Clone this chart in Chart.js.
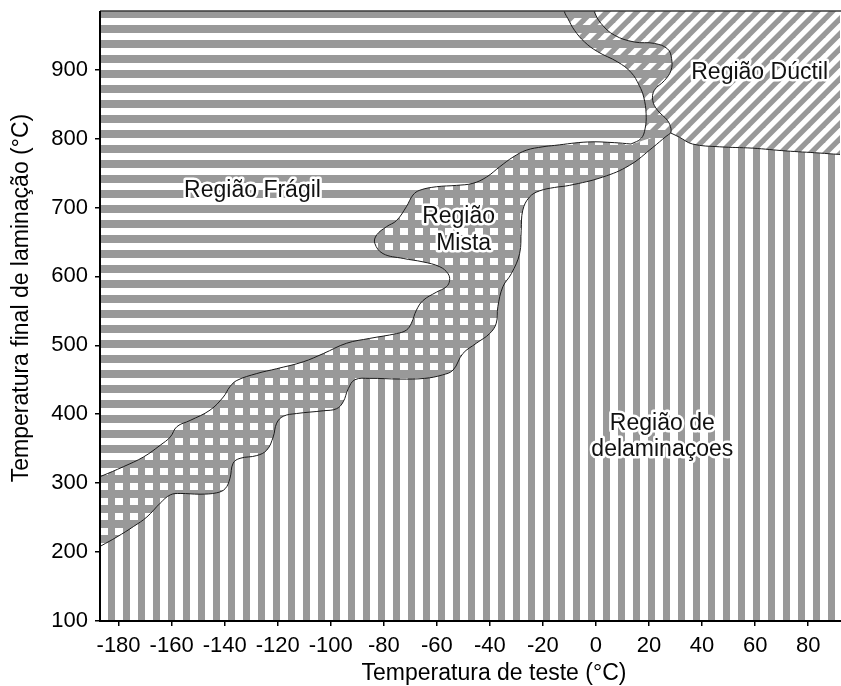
<!DOCTYPE html>
<html>
<head>
<meta charset="utf-8">
<script src="https://cdn.jsdelivr.net/npm/chart.js@4.4.1/dist/chart.umd.min.js"></script>
<style>
  html, body { margin: 0; padding: 0; background: #ffffff; }
  #wrap { width: 841px; height: 686px; position: relative; }
</style>
</head>
<body>
<div id="wrap"><canvas id="chart"></canvas></div>
<script>
// Axis ranges and tick values
const xRange = [-187, 92];
const yRange = [100, 985];
const xTickValues = [-180, -160, -140, -120, -100, -80, -60, -40, -20, 0, 20, 40, 60, 80];
const yTickValues = [100, 200, 300, 400, 500, 600, 700, 800, 900];

// Boundary curves: [temperatura de teste (°C), temperatura final de laminação (°C)]
// Frágil / Mista, from the left edge up to the junction near 13 °C
const boundaryFragilMista = [
  [-195, 297], [-186.6, 310], [-178.1, 324], [-170.6, 338], [-164.3, 355], [-160.5, 367],
  [-158.0, 382], [-153.0, 391], [-145.5, 406], [-140.5, 425], [-138.0, 440], [-135.4, 449],
  [-127.9, 459], [-120.4, 466], [-110.4, 476], [-102.8, 488], [-94.0, 503], [-85.3, 510],
  [-75.2, 517], [-71.5, 522], [-69.6, 532], [-67.7, 551], [-65.2, 565], [-60.2, 577],
  [-56.4, 585], [-55.2, 594], [-55.8, 604], [-58.9, 614], [-65.2, 621], [-72.7, 626],
  [-80.3, 633], [-83.4, 648], [-82.7, 660], [-79.0, 672], [-75.2, 681], [-71.5, 701],
  [-69.0, 718], [-66.4, 725], [-60.2, 730], [-52.6, 732], [-46.4, 735], [-41.3, 744],
  [-36.3, 759], [-31.3, 773], [-26.3, 783], [-20.0, 788], [-15.6, 790], [-3.1, 795],
  [6.9, 794], [13.2, 792]
];
// Frágil / Mista, from the junction up to the top edge
const boundaryFragilMistaTop = [
  [13.2, 792], [17.0, 800], [18.5, 814], [18.9, 836], [18.0, 860], [16.3, 877],
  [13.2, 896], [8.2, 911], [0.6, 926], [-4.3, 940], [-8.1, 957], [-10.6, 974],
  [-11.9, 984], [-12.8, 1000]
];
// Mista / Dúctil, from the top edge down to the triple point
const boundaryMistaDuctil = [
  [-1.5, 1000], [-0.6, 984], [1.9, 967], [6.9, 950], [14.5, 940], [22.0, 938],
  [27.0, 930], [28.5, 916], [28.3, 899], [25.8, 884], [22.0, 870], [21.4, 855],
  [23.2, 841], [27.0, 826], [28.3, 814], [28.2, 808]
];
// Dúctil / delaminações, from the triple point to the right edge
const boundaryDuctilDelam = [
  [28.2, 808], [31.4, 802], [36.4, 792], [46.5, 788], [59.0, 786], [71.6, 782],
  [84.1, 779], [91.6, 777], [100, 776]
];
// Mista / delaminações, from the left edge to the triple point
const boundaryMistaDelam = [
  [-195, 191], [-186.6, 209], [-180.6, 222], [-174.4, 237], [-169.3, 251], [-164.3, 271],
  [-160.5, 283], [-156.8, 285], [-149.3, 284], [-143.0, 286], [-139.8, 292], [-138.0, 307],
  [-136.8, 329], [-134.2, 336], [-127.9, 340], [-124.1, 348], [-121.7, 367], [-120.4, 387],
  [-117.9, 397], [-112.9, 401], [-102.8, 405], [-97.8, 408], [-95.3, 418], [-93.4, 437],
  [-90.9, 450], [-85.3, 452], [-74.0, 451], [-64.6, 452], [-57.9, 457], [-53.9, 464],
  [-50.2, 488], [-45.1, 503], [-40.1, 517], [-37.6, 532], [-37.0, 556], [-35.1, 585],
  [-31.9, 604], [-28.8, 633], [-28.2, 667], [-27.6, 696], [-25.1, 715], [-21.3, 724],
  [-15.6, 729], [-10.0, 732], [2.5, 744], [12.6, 761], [21.4, 787], [26.4, 803], [28.2, 808]
];

// Region names and where they sit (data coordinates)
const regionLabels = ['Região Frágil', 'Região', 'Mista', 'Região Dúctil', 'Região de', 'delaminaçoes'];
const regionLabelX = [-129.5, -51.8, -49.9, 61.7, 25.0, 25.0];
const regionLabelY = [724, 686, 647, 895, 386, 348];

const xTitle = 'Temperatura de teste (°C)';
const yTitle = 'Temperatura final de laminação (°C)';

// ---- drawing helpers ----
const STRIPE_GREY = '#999999';
const FONT_FAMILY = '"Liberation Sans", Arial, Helvetica, sans-serif';

function makePattern(drawTile) {
  const c = document.createElement('canvas');
  c.width = 15; c.height = 15;
  const g = c.getContext('2d');
  g.fillStyle = STRIPE_GREY;
  drawTile(g);
  return g.createPattern(c, 'repeat');
}
const horizontalStripes = makePattern(g => { g.fillRect(0, 10, 15, 5); g.fillRect(0, 0, 15, 3); });
const verticalStripes = makePattern(g => { g.fillRect(3, 0, 7, 15); });
const diagonalStripes = makePattern(g => {
  const w = 7.5;
  for (let k = -1; k <= 1; k++) {
    g.beginPath();
    g.moveTo(k * 15, 15); g.lineTo(k * 15 + w, 15);
    g.lineTo(k * 15 + w + 15, 0); g.lineTo(k * 15 + 15, 0);
    g.closePath(); g.fill();
  }
});

const pts = arr => arr.map(([x, y]) => ({ x, y }));
const rev = arr => arr.slice().reverse();

// points just outside the plotting frame, used to close the region shapes
const out = { l: xRange[0] - 20, r: xRange[1] + 12, b: yRange[0] - 40, t: yRange[1] + 25 };

const regionFragil = [[out.l, out.t], ...boundaryMistaDuctil, ...rev(boundaryMistaDelam)];
const regionDelam = [...boundaryFragilMista, ...boundaryDuctilDelam, [out.r, out.b], [out.l, out.b]];
const regionDuctil = [...rev(boundaryFragilMistaTop), ...boundaryDuctilDelam, [out.r, out.t]];

function regionDataset(poly, pattern) {
  return {
    data: pts(poly), showLine: true, fill: 'shape', backgroundColor: pattern,
    borderColor: 'rgba(0,0,0,0)', borderWidth: 1, pointRadius: 0, tension: 0.4,
    capBezierPoints: false, order: 10
  };
}
function boundaryDataset(curve) {
  return {
    data: pts(curve), showLine: true, fill: false, borderColor: '#1a1a1a', borderWidth: 1,
    pointRadius: 0, tension: 0.4, capBezierPoints: false, order: 1
  };
}

const frameAndText = {
  id: 'frameAndText',
  afterDatasetsDraw(chart) {
    const { ctx, chartArea: a, scales: { x, y } } = chart;
    ctx.save();
    // top border
    ctx.strokeStyle = '#3a3a3a'; ctx.lineWidth = 1.5;
    ctx.beginPath(); ctx.moveTo(a.left, a.top); ctx.lineTo(a.right + 1, a.top); ctx.stroke();
    // axis lines
    ctx.strokeStyle = '#000'; ctx.lineWidth = 2;
    ctx.beginPath(); ctx.moveTo(a.left, a.top); ctx.lineTo(a.left, a.bottom); ctx.lineTo(a.right + 1, a.bottom); ctx.stroke();

    // region names with a white halo
    ctx.font = '23px ' + FONT_FAMILY;
    ctx.textAlign = 'center'; ctx.textBaseline = 'middle';
    ctx.lineJoin = 'round';
    regionLabels.forEach((t, i) => {
      const px = x.getPixelForValue(regionLabelX[i]);
      const py = y.getPixelForValue(regionLabelY[i]);
      ctx.lineWidth = 5; ctx.strokeStyle = '#ffffff';
      ctx.strokeText(t, px, py);
      ctx.fillStyle = '#111';
      ctx.fillText(t, px, py);
    });

    // axis titles
    ctx.fillStyle = '#000';
    ctx.textBaseline = 'alphabetic';
    ctx.fillText(xTitle, (a.left + a.right) / 2 + 24, 680);
    ctx.save();
    ctx.translate(22, (a.top + a.bottom) / 2 - 18);
    ctx.rotate(-Math.PI / 2);
    ctx.textBaseline = 'middle';
    ctx.fillText(yTitle, 0, 0);
    ctx.restore();
    ctx.restore();
  }
};

const tickFont = { family: FONT_FAMILY, size: 22 };

new Chart(document.getElementById('chart'), {
  type: 'scatter',
  data: {
    datasets: [
      boundaryDataset(boundaryFragilMista),
      boundaryDataset(boundaryFragilMistaTop),
      boundaryDataset(boundaryMistaDuctil),
      boundaryDataset(boundaryDuctilDelam),
      boundaryDataset(boundaryMistaDelam),
      regionDataset(regionFragil, horizontalStripes),
      regionDataset(regionDelam, verticalStripes),
      regionDataset(regionDuctil, diagonalStripes)
    ]
  },
  options: {
    responsive: true,
    maintainAspectRatio: false,
    animation: false,
    events: [],
    layout: { padding: { left: 0, right: 1, top: 11, bottom: 0 } },
    plugins: { legend: { display: false }, tooltip: { enabled: false } },
    scales: {
      x: {
        type: 'linear', min: xRange[0], max: xRange[1],
        afterBuildTicks: s => { s.ticks = xTickValues.map(v => ({ value: v })); },
        afterFit: s => { s.height = 65; s.paddingLeft = 0; s.paddingRight = 0; },
        grid: { drawOnChartArea: false, drawTicks: true, tickLength: 5, color: '#000', lineWidth: 1.5 },
        border: { display: false },
        ticks: { font: tickFont, color: '#000', padding: 7, maxRotation: 0, autoSkip: false, callback: v => String(v) }
      },
      y: {
        type: 'linear', min: yRange[0], max: yRange[1],
        afterBuildTicks: s => { s.ticks = yTickValues.map(v => ({ value: v })); },
        afterFit: s => { s.width = 100; s.paddingTop = 0; s.paddingBottom = 0; },
        grid: { drawOnChartArea: false, drawTicks: true, tickLength: 5, color: '#000', lineWidth: 1.5 },
        border: { display: false },
        ticks: { font: tickFont, color: '#000', padding: 7, autoSkip: false, callback: v => String(v) }
      }
    }
  },
  plugins: [frameAndText]
});
</script>
</body>
</html>
